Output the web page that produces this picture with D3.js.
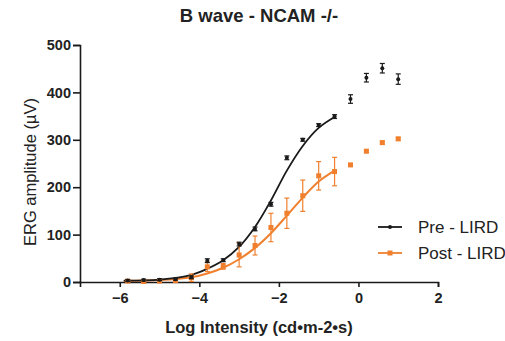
<!DOCTYPE html>
<html>
<head>
<meta charset="utf-8">
<script src="https://d3js.org/d3.v7.min.js"></script>
<style>
  body { margin: 0; background: #fff; }
  text { font-family: "Liberation Sans", Arial, sans-serif; }
  .tick text { font-size: 14.5px; font-weight: bold; fill: #222; }
</style>
</head>
<body>
<div id="chart"></div>
<script>
// log intensity steps
const logI = [-5.8, -5.4, -5.0, -4.6, -4.2, -3.8, -3.4, -3.0, -2.6, -2.2, -1.8, -1.4, -1.0, -0.6, -0.2, 0.2, 0.6, 1.0];

const preMean = [3, 4, 5, 6, 10, 45, 46, 80, 112, 164, 262, 300, 331, 349, 386, 431, 451, 428];
const preErr  = [2, 2, 2, 2, 3, 4, 3, 4, 4, 4, 4, 3, 3, 4, 9, 9, 10, 11];

const postMean = [2, 1, 2, 3, 9, 32, 33, 57, 77, 115, 145, 182, 224, 233, 247, 276, 294, 302];
const postErr  = [2, 2, 2, 2, 8, 10, 6, 25, 20, 30, 32, 33, 30, 30, 3, 3, 3, 3];

// fitted curves
const fitX    = [-5.9, -5.0, -4.2, -3.8, -3.4, -3.0, -2.6, -2.2, -1.8, -1.4, -1.0, -0.6];
const preFit  = [3, 5, 15, 28, 46, 74, 116, 172, 235, 287, 325, 348];
const postFit = [2, 4, 10, 18, 30, 48, 72, 103, 140, 178, 212, 235];

const xTicks = [-6, -4, -2, 0, 2];
const yTicks = [0, 100, 200, 300, 400, 500];

const w = 505, h = 341;
const black = "#1a1a1a", orange = "#f0802e";

let svg = d3.select("#chart").append("svg")
  .attr("width", w).attr("height", h);

let x = d3.scaleLinear().domain([-7, 2]).range([80, 438]);
let y = d3.scaleLinear().domain([0, 500]).range([282, 45]);

// axes
let xAxis = svg.append("g")
  .attr("transform", "translate(0,282)")
  .call(d3.axisBottom(x).tickValues(xTicks).tickSize(5).tickPadding(6));
let yAxis = svg.append("g")
  .attr("transform", "translate(80,0)")
  .call(d3.axisLeft(y).tickValues(yTicks).tickSize(7).tickPadding(2));
[xAxis, yAxis].forEach(a => {
  a.selectAll("path, line").attr("stroke", black).attr("stroke-width", 1.6);
});

// fitted lines
let line = d3.line().x(d => x(d[0])).y(d => y(d[1])).curve(d3.curveCatmullRom.alpha(0.5));
svg.append("path")
  .attr("d", line(fitX.map((v, i) => [v, postFit[i]])))
  .attr("fill", "none").attr("stroke", orange).attr("stroke-width", 2);
svg.append("path")
  .attr("d", line(fitX.map((v, i) => [v, preFit[i]])))
  .attr("fill", "none").attr("stroke", black).attr("stroke-width", 1.8);

function drawSeries(mean, err, color, square) {
  let g = svg.append("g");
  let pts = logI.map((v, i) => ({ x: v, m: mean[i], e: err[i] }));
  g.selectAll("line.eb").data(pts).enter().append("line")
    .attr("x1", d => x(d.x)).attr("x2", d => x(d.x))
    .attr("y1", d => y(d.m - d.e)).attr("y2", d => y(d.m + d.e))
    .attr("stroke", color).attr("stroke-width", 1.2);
  [-1, 1].forEach(s => {
    g.selectAll("line.cap" + s).data(pts).enter().append("line")
      .attr("x1", d => x(d.x) - 2.5).attr("x2", d => x(d.x) + 2.5)
      .attr("y1", d => y(d.m + s * d.e)).attr("y2", d => y(d.m + s * d.e))
      .attr("stroke", color).attr("stroke-width", 1.2);
  });
  if (square) {
    g.selectAll("rect").data(pts).enter().append("rect")
      .attr("x", d => x(d.x) - 2.5).attr("y", d => y(d.m) - 2.5)
      .attr("width", 5).attr("height", 5).attr("fill", color);
  } else {
    g.selectAll("circle").data(pts).enter().append("circle")
      .attr("cx", d => x(d.x)).attr("cy", d => y(d.m))
      .attr("r", 2).attr("fill", color);
  }
}
drawSeries(postMean, postErr, orange, true);
drawSeries(preMean, preErr, black, false);

// legend
let legend = [["Pre - LIRD", black, false], ["Post - LIRD", orange, true]];
legend.forEach((l, i) => {
  let ly = 227 + i * 26;
  svg.append("line").attr("x1", 378).attr("x2", 402).attr("y1", ly).attr("y2", ly)
    .attr("stroke", l[1]).attr("stroke-width", 1.8);
  if (l[2]) {
    svg.append("rect").attr("x", 387.5).attr("y", ly - 2.5).attr("width", 5).attr("height", 5).attr("fill", l[1]);
  } else {
    svg.append("circle").attr("cx", 390).attr("cy", ly).attr("r", 2).attr("fill", l[1]);
  }
  svg.append("text").attr("x", 418).attr("y", ly + 6)
    .attr("font-size", 17).attr("fill", "#222").text(l[0]);
});

// titles
svg.append("text").attr("x", 259).attr("y", 22).attr("text-anchor", "middle")
  .attr("font-size", 18.5).attr("font-weight", "bold").attr("fill", "#222")
  .text("B wave - NCAM -/-");
svg.append("text").attr("x", 259).attr("y", 333).attr("text-anchor", "middle")
  .attr("font-size", 16.5).attr("font-weight", "bold").attr("fill", "#222")
  .text("Log Intensity (cd•m-2•s)");
svg.append("text").attr("transform", "translate(36,172) rotate(-90)")
  .attr("text-anchor", "middle")
  .attr("font-size", 16.5).attr("fill", "#222")
  .text("ERG amplitude (µV)");
</script>
</body>
</html>
